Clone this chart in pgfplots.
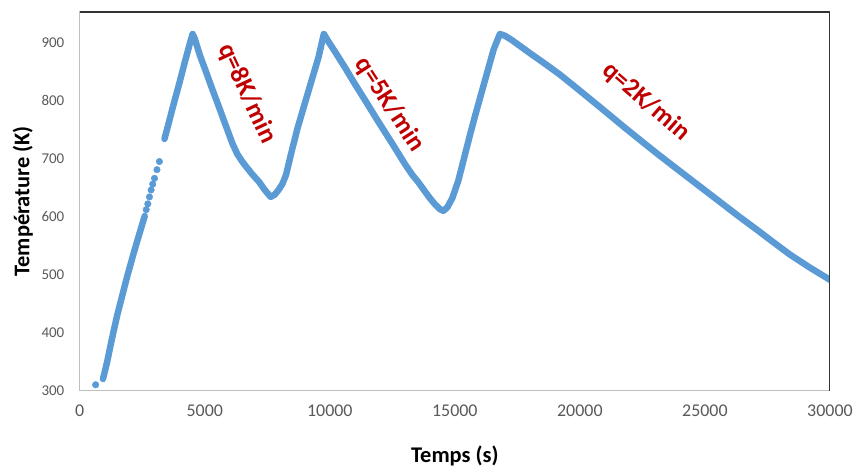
\documentclass[border=0pt]{standalone}
\usepackage{fontspec}
\setmainfont{Carlito}
\usepackage{pgfplots}
\pgfplotsset{compat=1.18}
\usepackage{pgfplotstable}
\definecolor{series}{HTML}{5B9BD5}
\definecolor{annot}{HTML}{C00000}
\definecolor{ticktext}{HTML}{595959}

\pgfplotstableread{
x y
930 320
1000 332
1100 350
1200 371
1328 397
1500 430
1726 468
1900 497
2125 532
2300 558
2523 590
2600 601
}\segA

\pgfplotstableread{
x y
637 310
2660 612
2723 622
2789 634
2855 646
2920 656
2990 666
3090 681
3187 695
}\dotsB

\pgfplotstableread{
x y
3390 734
3550 760
3750 793
3984 830
4200 866
4400 898
4515 915
4600 907
4800 879
5048 850
5300 820
5578 788
5850 756
6108 726
6300 708
6500 695
6640 687
6900 673
7171 660
7400 646
7636 634
7800 638
7950 646
8100 656
8250 672
8450 708
8700 751
9000 795
9295 838
9550 875
9761 915
9900 905
10200 885
10625 856
11000 829
11422 800
11952 763
12483 727
13015 690
13300 672
13546 659
13813 643
14000 632
14211 621
14400 613
14542 610
14700 616
14900 632
15139 662
15400 706
15600 740
15805 773
16069 814
16335 855
16550 888
16800 915
17000 912
17264 905
18000 882
18593 864
19200 845
19920 820
20800 789
21780 754
22500 729
23108 708
23800 685
24434 664
25100 642
25765 620
26400 599
27092 577
27700 557
28418 534
29200 512
30000 491
}\segC

\begin{document}
\begin{tikzpicture}
\begin{axis}[
  scale only axis,
  width=753pt, height=380pt,
  xmin=0, xmax=30000, ymin=300, ymax=953,
  xtick={0,5000,...,30000},
  ytick={300,400,...,900},
  major tick length=0pt,
  scaled x ticks=false,
  /pgf/number format/assume math mode=true,
  /pgf/number format/1000 sep={},
  xticklabel style={font=\fontsize{18}{20}\selectfont, text=ticktext, yshift=-11pt},
  yticklabel style={font=\fontsize{15}{17}\selectfont, text=ticktext, xshift=-12pt},
  axis line style={draw=black!25, line width=1pt},
  xlabel={Temps (s)},
  ylabel={Température (K)},
  xlabel style={font=\bfseries\fontsize{22.5}{24}\selectfont, at={(axis description cs:0.5,-0.1737)}, anchor=center},
  ylabel style={font=\bfseries\fontsize{22.5}{24}\selectfont, at={(axis description cs:-0.0757,0.5)}, anchor=center},
]
\addplot[series, line width=6.5pt, line join=round, line cap=round, no marks] table {\segA};
\addplot[only marks, mark=*, mark size=3.3pt, mark options={draw=series, fill=series}] table {\dotsB};
\addplot[series, line width=6.5pt, line join=round, line cap=round, no marks] table {\segC};
\draw[black!80, line width=1.3pt] (rel axis cs:0,1) -- (rel axis cs:1,1) -- (rel axis cs:1,0);
\node[rotate=-65, text=annot, font=\bfseries\fontsize{26}{28}\selectfont] at (axis cs:6700,812) {q=8K/min};
\node[rotate=-57, text=annot, font=\bfseries\fontsize{26}{28}\selectfont] at (axis cs:12398,793) {q=5K/min};
\node[rotate=-41, text=annot, font=\bfseries\fontsize{26}{28}\selectfont] at (axis cs:22642,798) {q=2K/min};
\end{axis}
\path (current axis.south west) ++(-80pt,-76pt) rectangle ++(856pt,468pt);
\end{tikzpicture}
\end{document}
